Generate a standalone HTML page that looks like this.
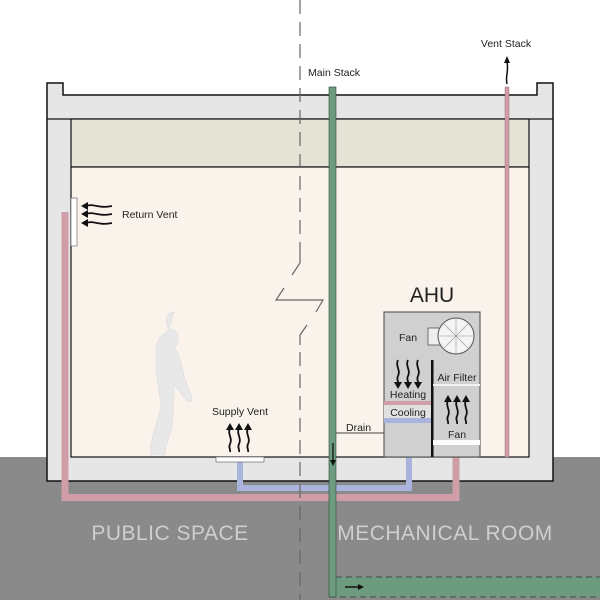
<!DOCTYPE html>
<html><head><style>
html,body{margin:0;padding:0;background:#fff}
svg{display:block}
text{font-family:"Liberation Sans",sans-serif}
</style></head><body>
<svg width="600" height="600" viewBox="0 0 600 600" xmlns="http://www.w3.org/2000/svg">
<rect x="0" y="457" width="600" height="143" fill="#8a8a8a"/>
<path d="M47,83 H63 V95 H537 V83 H553 V481 H47 Z" fill="#e6e6e6" stroke="#111" stroke-width="1.5"/>
<line x1="47" y1="119" x2="553" y2="119" stroke="#111" stroke-width="1.2"/>
<rect x="71" y="119" width="458" height="48" fill="#e5e2d6" stroke="#111" stroke-width="1.2"/>
<rect x="71" y="167" width="458" height="290" fill="#faf3ec" stroke="#111" stroke-width="1.2"/>
<path d="M65,212 V497.5 H456 V457" fill="none" stroke="#cf9ea8" stroke-width="7"/>
<path d="M240,462 V488 H409 V457" fill="none" stroke="#a9b3dc" stroke-width="6"/>
<rect x="71" y="198" width="6" height="48" fill="#fff" stroke="#555" stroke-width="0.6"/>
<rect x="216" y="457" width="48" height="5" fill="#fff" stroke="#555" stroke-width="0.6"/>
<line x1="300" y1="0" x2="300" y2="253" stroke="#666" stroke-width="1.2" stroke-dasharray="14,8"/>
<path d="M300,253 V263 L292,275 M284,288 L276,300 H323 L316,312 M307,325 L300,335 V345" fill="none" stroke="#666" stroke-width="1.2"/>
<line x1="300" y1="352" x2="300" y2="600" stroke="#666" stroke-width="1.2" stroke-dasharray="14,8"/>
<rect x="330" y="577" width="270" height="20" fill="#6d9b80"/>
<line x1="336" y1="577" x2="600" y2="577" stroke="#333" stroke-width="0.8" stroke-dasharray="6,4"/>
<line x1="330" y1="597" x2="600" y2="597" stroke="#333" stroke-width="0.8" stroke-dasharray="6,4"/>
<rect x="329" y="87" width="7" height="510" fill="#6d9b80" stroke="#2a4a38" stroke-width="0.6"/>
<path d="M345,587 H358" stroke="#111" stroke-width="1.5"/><path d="M358,584 L364,587 L358,590Z" fill="#111"/>
<path d="M333,443 V462" stroke="#111" stroke-width="1.3"/><path d="M330,460 L333,466 L336,460Z" fill="#111"/>
<rect x="505" y="87" width="4" height="370" fill="#cf9ea8" stroke="#8a5a65" stroke-width="0.4"/>
<path d="M507,84 C505,76 509,72 507,62" fill="none" stroke="#111" stroke-width="1.5"/><path d="M504,63 L507,56 L510,63Z" fill="#111"/>
<path d="M336,433 H384" stroke="#444" stroke-width="1"/>
<text x="346" y="431" font-size="10.5" fill="#222">Drain</text>
<rect x="384" y="312" width="96" height="145" fill="#d0d0d0" stroke="#444" stroke-width="1"/>
<rect x="428" y="328" width="14" height="17" fill="#eee" stroke="#555" stroke-width="0.8"/>
<circle cx="456" cy="336" r="18" fill="#f4f4f4" stroke="#555" stroke-width="1"/>
<g stroke="#999" stroke-width="0.6"><line x1="438" y1="336" x2="474" y2="336"/><line x1="456" y1="318" x2="456" y2="354"/><line x1="443" y1="323" x2="469" y2="349"/><line x1="469" y1="323" x2="443" y2="349"/></g>
<rect x="431" y="360" width="2.5" height="97" fill="#111"/>
<rect x="433" y="384" width="47" height="2" fill="#f4f4f4"/>
<rect x="384" y="401" width="47" height="4" fill="#cf9ea8"/>
<rect x="384" y="405" width="47" height="13" fill="#e0e0e0"/>
<rect x="384" y="418" width="47" height="5" fill="#a9b3dc"/>
<rect x="433" y="440" width="47" height="5" fill="#fff"/>
<text x="432" y="302" font-size="21" fill="#222" text-anchor="middle">AHU</text>
<text x="408" y="341" font-size="10.5" fill="#222" text-anchor="middle">Fan</text>
<text x="408" y="398" font-size="10.5" fill="#222" text-anchor="middle">Heating</text>
<text x="408" y="416" font-size="10.5" fill="#222" text-anchor="middle">Cooling</text>
<text x="457" y="381" font-size="10.5" fill="#222" text-anchor="middle">Air Filter</text>
<text x="457" y="438" font-size="10.5" fill="#222" text-anchor="middle">Fan</text>
<g fill="none" stroke="#111" stroke-width="1.8">
<path d="M398,360 c-3,6 3,10 0,16 c-2,4 1,5 0,8"/><path d="M408,360 c-3,6 3,10 0,16 c-2,4 1,5 0,8"/><path d="M418,360 c-3,6 3,10 0,16 c-2,4 1,5 0,8"/>
<path d="M448,400 c-3,6 3,10 0,16 c-2,4 1,5 0,8"/><path d="M457,400 c-3,6 3,10 0,16 c-2,4 1,5 0,8"/><path d="M466,400 c-3,6 3,10 0,16 c-2,4 1,5 0,8"/>
<path d="M230,428 c-3,6 3,10 0,16 c-2,4 1,5 0,8"/><path d="M239,428 c-3,6 3,10 0,16 c-2,4 1,5 0,8"/><path d="M248,428 c-3,6 3,10 0,16 c-2,4 1,5 0,8"/>
<path d="M86,206 c8,-3 12,3 26,0"/><path d="M86,214 c8,-3 12,3 26,0"/><path d="M86,223 c8,-3 12,3 26,0"/>
</g>
<g fill="#111">
<path d="M394,382 L398,389 L402,382Z"/><path d="M404,382 L408,389 L412,382Z"/><path d="M414,382 L418,389 L422,382Z"/>
<path d="M444,402 L448,395 L452,402Z"/><path d="M453,402 L457,395 L461,402Z"/><path d="M462,402 L466,395 L470,402Z"/>
<path d="M226,430 L230,423 L234,430Z"/><path d="M235,430 L239,423 L243,430Z"/><path d="M244,430 L248,423 L252,430Z"/>
<path d="M88,202 L81,206 L88,210Z"/><path d="M88,210 L81,214 L88,218Z"/><path d="M88,219 L81,223 L88,227Z"/>
</g>
<text x="122" y="218" font-size="10.5" fill="#222">Return Vent</text>
<text x="240" y="415" font-size="10.5" fill="#222" text-anchor="middle">Supply Vent</text>
<text x="334" y="76" font-size="10.5" fill="#222" text-anchor="middle">Main Stack</text>
<text x="506" y="47" font-size="10.5" fill="#222" text-anchor="middle">Vent Stack</text>
<path d="M174,312 c-5,0 -8,4 -8,9 c0,4 2,6 2,9 c-1,3 -4,4 -7,6 c-4,4 -5,10 -5,18 c0,10 0,20 2,30 c1,8 2,14 3,20 c-1,8 -3,14 -5,20 c-2,8 -4,14 -5,20 c-1,4 -1,8 0,11 l14,0 c0,-6 2,-12 4,-18 c3,-8 4,-16 4,-24 c1,-8 1,-16 1,-28 c4,4 8,10 12,15 c3,3 7,2 6,-3 c-3,-8 -7,-16 -9,-26 c-2,-10 -4,-18 -9,-23 c2,-2 4,-5 4,-9 c1,-6 -3,-10 -9,-10 Z" fill="#e8e8e8" stroke="#ccc" stroke-width="0.6" stroke-dasharray="1,1"/>
<text x="170" y="540" font-size="21" fill="#cfcfcf" text-anchor="middle" letter-spacing="0.5">PUBLIC SPACE</text>
<text x="445" y="540" font-size="21" fill="#cfcfcf" text-anchor="middle" letter-spacing="0.5">MECHANICAL ROOM</text>
</svg>
</body></html>
